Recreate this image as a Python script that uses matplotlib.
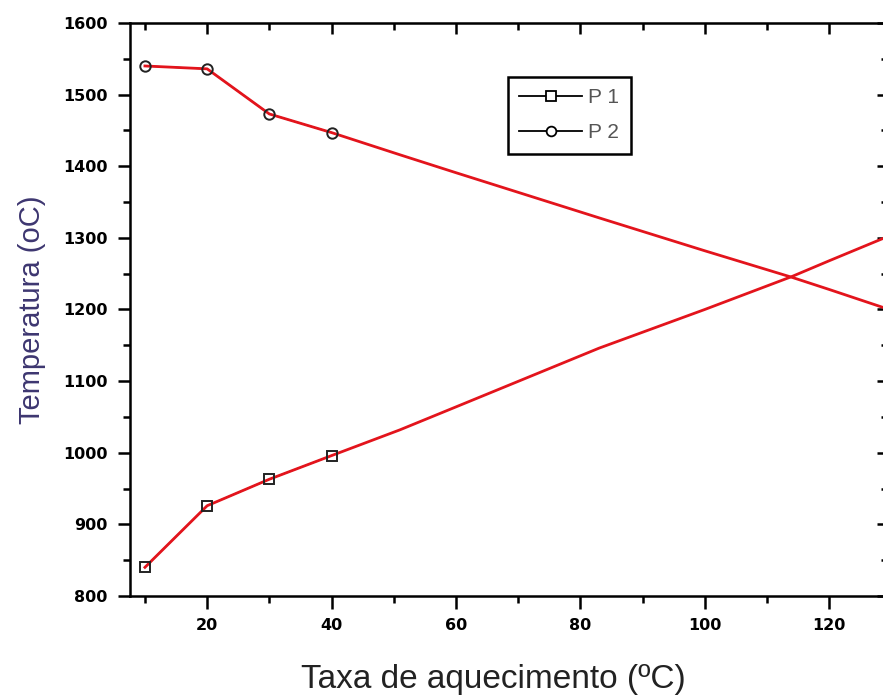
import matplotlib
matplotlib.use("Agg")
import matplotlib.pyplot as plt
from matplotlib.lines import Line2D
from matplotlib.ticker import MultipleLocator

# measured points
rate = [10, 20, 30, 40]
p1 = [840, 926, 963, 996]
p2 = [1540, 1536, 1473, 1447]

# red fit curves
fit_rate = [10, 20, 30, 40, 51, 60, 83, 100, 114, 120, 130]
fit_p1 = [840, 926, 963, 996, 1032, 1064, 1146, 1200, 1246, 1268, 1304]
fit_p2 = [1540, 1536, 1473, 1447, 1416, 1391, 1328, 1282, 1245, 1228, 1199]

series_labels = ["P 1", "P 2"]

fig = plt.figure(figsize=(8.83, 7.0), dpi=100)
x0, x1 = 7.6, 129.5
px_per_unit = 6.22
left = 130 / 883
width_px = (x1 - x0) * px_per_unit
ax = fig.add_axes([left, 104 / 700, width_px / 883, 573 / 700])

# black data lines underneath, red fit on top, markers last
ax.plot(rate, p1, color="black", lw=1, zorder=2)
ax.plot(rate, p2, color="black", lw=1, zorder=2)
ax.plot(fit_rate, fit_p1, color="#e3141c", lw=2, zorder=3)
ax.plot(fit_rate, fit_p2, color="#e3141c", lw=2, zorder=3)
ax.plot(rate, p1, ls="none", marker="s", ms=6.5, mfc="none", mec="#222222", mew=1.4, zorder=4)
ax.plot(rate, p2, ls="none", marker="o", ms=7.5, mfc="none", mec="#222222", mew=1.4, zorder=4)

ax.set_xlim(x0, x1)
ax.set_ylim(800, 1600)

ax.xaxis.set_major_locator(MultipleLocator(20))
ax.xaxis.set_minor_locator(MultipleLocator(10))
ax.yaxis.set_major_locator(MultipleLocator(100))
ax.yaxis.set_minor_locator(MultipleLocator(50))

for s in ax.spines.values():
    s.set_linewidth(1.8)

ax.tick_params(which="major", direction="out", length=9, width=1.8, pad=7)
ax.tick_params(which="minor", direction="out", length=5, width=1.8)
for lab in ax.get_xticklabels() + ax.get_yticklabels():
    lab.set_fontweight("bold")
    lab.set_fontsize(11.5)
    lab.set_family("DejaVu Sans")

# top and right ticks point inward, without labels
top = ax.secondary_xaxis("top")
top.xaxis.set_major_locator(MultipleLocator(20))
top.xaxis.set_minor_locator(MultipleLocator(10))
top.tick_params(which="major", direction="in", length=8, width=1.8, labeltop=False)
top.tick_params(which="minor", direction="in", length=5, width=1.8)
right = ax.secondary_yaxis("right")
right.yaxis.set_major_locator(MultipleLocator(100))
right.yaxis.set_minor_locator(MultipleLocator(50))
right.tick_params(which="major", direction="in", length=8, width=1.8, labelright=False)
right.tick_params(which="minor", direction="in", length=5, width=1.8)

ax.set_xlabel("Taxa de aquecimento (ºC)", fontsize=24, family="Liberation Sans",
              color="#222222")
ax.set_ylabel("Temperatura (oC)", fontsize=21, family="Liberation Sans",
              color="#3d3670")
ax.xaxis.set_label_coords((493 - 130) / width_px, (596 - 664) / 573)
ax.yaxis.set_label_coords((46 - 130) / width_px, 0.5)

handles = [
    Line2D([], [], color="black", lw=1.3, marker="s", ms=7, mfc="white", mec="black", mew=1.3),
    Line2D([], [], color="black", lw=1.3, marker="o", ms=7, mfc="white", mec="black", mew=1.3),
]
leg = ax.legend(handles, series_labels, loc="upper left",
                bbox_to_anchor=(508 / 883, 1 - 77 / 700), bbox_transform=fig.transFigure,
                frameon=True, fancybox=False, edgecolor="black", framealpha=1,
                prop={"family": "Liberation Sans", "size": 15},
                handlelength=3.0, handletextpad=0.3, borderpad=0.55, labelspacing=0.75,
                borderaxespad=0)
leg.get_frame().set_linewidth(1.8)
for t in leg.get_texts():
    t.set_color("#555555")

fig.savefig("out.png", dpi=100)
